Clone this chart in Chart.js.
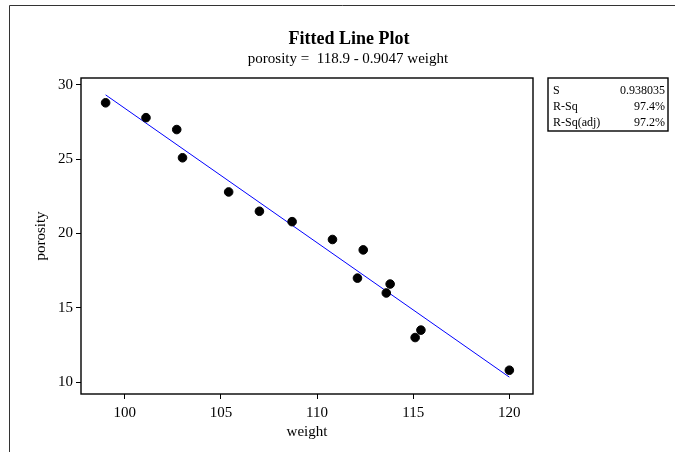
<!DOCTYPE html>
<html>
<head>
<meta charset="utf-8">
<title>Fitted Line Plot</title>
<script src="https://cdn.jsdelivr.net/npm/chart.js@4.4.1/dist/chart.umd.min.js"></script>
<style>
    html, body { margin: 0; padding: 0; background: #fff; }
    canvas { display: block; }
</style>
</head>
<body>
<canvas id="chart" width="675" height="452"></canvas>
<script>
const weight = [99.0, 101.1, 102.7, 103.0, 105.4, 107.0, 108.7, 110.8, 112.4, 112.1, 113.8, 113.6, 115.4, 115.1, 120.0];
const porosity = [28.8, 27.8, 27.0, 25.1, 22.8, 21.5, 20.8, 19.6, 18.9, 17.0, 16.6, 16.0, 13.5, 13.0, 10.8];

// Regression coefficients: porosity = 118.9 - 0.9047 weight
const intercept = 118.9;
const slope = -0.9047;

const xTicks = [100, 105, 110, 115, 120];
const yTicks = [10, 15, 20, 25, 30];

const statLabels = ['S', 'R-Sq', 'R-Sq(adj)'];
const statValues = ['0.938035', '97.4%', '97.2%'];

const serif = "'Liberation Serif', 'Times New Roman', serif";

// Build the point list and the two ends of the fitted line
const points = weight.map((w, i) => ({ x: w, y: porosity[i] }));
const xMin = Math.min(...weight);
const xMax = Math.max(...weight);
const fitLine = [
    { x: xMin, y: intercept + slope * xMin },
    { x: xMax, y: intercept + slope * xMax }
];

// Titles, frame and the statistics box
const decorations = {
    id: 'decorations',
    afterDraw(chart) {
        const ctx = chart.ctx;
        const area = chart.chartArea;
        ctx.save();

        // outer frame
        ctx.strokeStyle = '#333';
        ctx.lineWidth = 1;
        ctx.beginPath();
        ctx.moveTo(9.5, 452);
        ctx.lineTo(9.5, 5.5);
        ctx.lineTo(675, 5.5);
        ctx.stroke();

        // plot border
        ctx.strokeStyle = '#000';
        ctx.lineWidth = 1.4;
        ctx.strokeRect(area.left, area.top, area.right - area.left, area.bottom - area.top);

        // title and equation
        ctx.fillStyle = '#000';
        ctx.textAlign = 'center';
        ctx.textBaseline = 'alphabetic';
        ctx.font = 'bold 18px ' + serif;
        ctx.fillText('Fitted Line Plot', 349, 44);
        ctx.font = '15px ' + serif;
        ctx.fillText('porosity = \u00a0118.9 - 0.9047 weight', 348, 63);

        // stats box
        ctx.strokeRect(548, 78, 120, 53);
        ctx.font = '12px ' + serif;
        statLabels.forEach((label, i) => {
            const y = 94 + i * 16;
            ctx.textAlign = 'left';
            ctx.fillText(label, 553, y);
            ctx.textAlign = 'right';
            ctx.fillText(statValues[i], 665, y);
        });
        ctx.restore();
    }
};

const ctx = document.getElementById('chart').getContext('2d');
new Chart(ctx, {
    type: 'scatter',
    data: {
        datasets: [{
            label: 'porosity',
            data: points,
            backgroundColor: '#000',
            borderColor: '#000',
            pointRadius: 4.3,
            pointHoverRadius: 4.3
        }, {
            label: 'fit',
            data: fitLine,
            showLine: true,
            borderColor: '#0000ff',
            borderWidth: 1,
            pointRadius: 0,
            fill: false
        }]
    },
    options: {
        responsive: false,
        animation: false,
        layout: {
            padding: { top: 78, right: 142, bottom: 0, left: 0 }
        },
        plugins: {
            legend: { display: false },
            tooltip: { enabled: false }
        },
        scales: {
            x: {
                type: 'linear',
                min: 97.72,
                max: 121.23,
                afterBuildTicks: scale => { scale.ticks = xTicks.map(v => ({ value: v })); },
                afterFit: scale => { scale.height = 58; },
                grid: { drawOnChartArea: false, drawTicks: true, tickLength: 5, color: '#000' },
                border: { display: false },
                ticks: { color: '#000', padding: 5, maxRotation: 0, font: { family: serif, size: 15 } },
                title: {
                    display: true,
                    text: 'weight',
                    color: '#000',
                    font: { family: serif, size: 15 },
                    padding: { top: 0, bottom: 11 }
                }
            },
            y: {
                type: 'linear',
                min: 9.2,
                max: 30.47,
                afterBuildTicks: scale => { scale.ticks = yTicks.map(v => ({ value: v })); },
                afterFit: scale => { scale.width = 81; },
                grid: { drawOnChartArea: false, drawTicks: true, tickLength: 5, color: '#000' },
                border: { display: false },
                ticks: { color: '#000', padding: 3, font: { family: serif, size: 15 } },
                title: {
                    display: true,
                    text: 'porosity',
                    color: '#000',
                    font: { family: serif, size: 15 },
                    padding: { top: 32, bottom: 0 }
                }
            }
        }
    },
    plugins: [decorations]
});
</script>
</body>
</html>
